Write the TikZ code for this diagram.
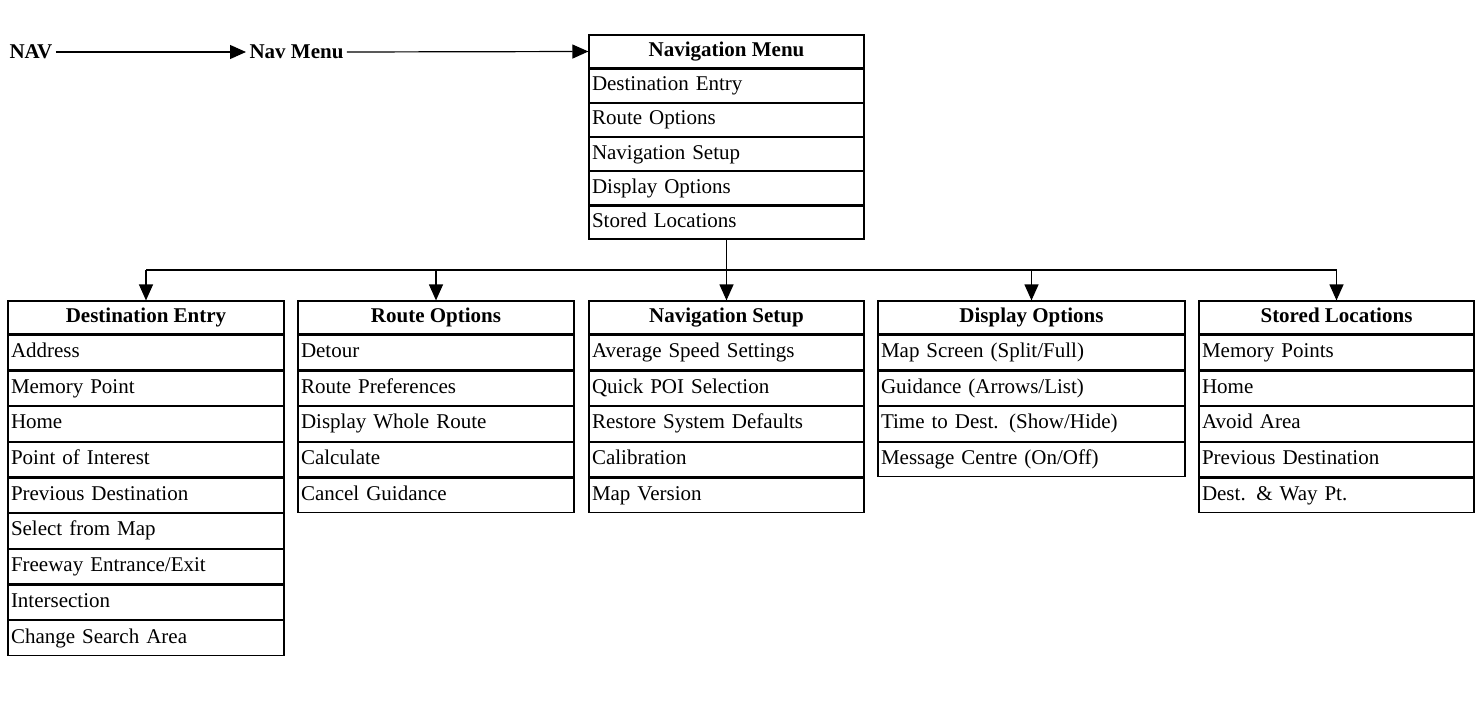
\documentclass[tikz,border=0pt]{standalone}
\usepackage{fontspec}
\setmainfont{Liberation Serif}
\usetikzlibrary{positioning,arrows.meta}
\tikzset{
  head/.style={draw,line width=1.2pt,minimum height=33pt,inner sep=0pt,text height=15pt,text depth=5pt,font=\fontsize{21}{24}\selectfont\bfseries},
  item/.style={draw,line width=1.2pt,minimum height=#1,inner xsep=3pt,inner ysep=0pt,text height=15pt,text depth=5pt,align=left,font=\fontsize{21}{24}\selectfont},
  link/.style={line width=1.2pt,-{Triangle[length=16pt,width=14pt]}}
}
\begin{document}
\begin{tikzpicture}[x=1pt,y=-1pt]
\useasboundingbox (0,0) rectangle (1476,706);

%Top row
\node[anchor=west,font=\fontsize{21}{24}\selectfont\bfseries] (nav) at (6,52){NAV};
\node[anchor=west,font=\fontsize{21}{24}\selectfont\bfseries] (navmenu) at (246,52){Nav Menu};

%Navigation Menu
\node[head,minimum width=275pt] (nm0) at (726.5,51.5){Navigation Menu};
\foreach \t [count=\i, remember=\i as \j (initially 0)] in
  {Destination Entry,Route Options,Navigation Setup,Display Options,Stored Locations}
  \node[item=33pt,text width=269pt,below=0pt of nm\j] (nm\i){\t};

\draw[link] (nav.east) -- (navmenu.west);
\draw[link] (navmenu.east) -- (nm0.west);

%Sub menus
\foreach \n/\x/\w/\h/\list in {
  de/146/276/Destination Entry/{Address,Memory Point,Home,Point of Interest,Previous Destination,Select from Map,Freeway Entrance/Exit,Intersection,Change Search Area},
  ro/436/276/Route Options/{Detour,Route Preferences,Display Whole Route,Calculate,Cancel Guidance},
  ns/726.5/275/Navigation Setup/{Average Speed Settings,Quick POI Selection,Restore System Defaults,Calibration,Map Version},
  do/1031.5/307/Display Options/{Map Screen (Split/Full),Guidance (Arrows/List),Time to Dest. (Show/Hide),Message Centre (On/Off)},
  sl/1336.5/275/Stored Locations/{Memory Points,Home,Avoid Area,Previous Destination,Dest. \& Way Pt.}}{
  \node[head,minimum width=\w pt] (\n0) at (\x,317.5){\h};
  \foreach \t [count=\i, remember=\i as \j (initially 0)] in \list
    \node[item=34.5pt,text width=\w pt-6pt,below=0pt of \n\j] (\n\i){\t};
}

%Branches
\coordinate (split) at (726.5,270);
\draw[line width=1.2pt] (nm5.south) -- (split);
\draw[line width=1.2pt] (de0.north |- split) -- (sl0.north |- split);
\foreach \n in {de,ro,ns,do,sl}
  \draw[link] (\n0.north |- split) -- (\n0.north);
\end{tikzpicture}
\end{document}
